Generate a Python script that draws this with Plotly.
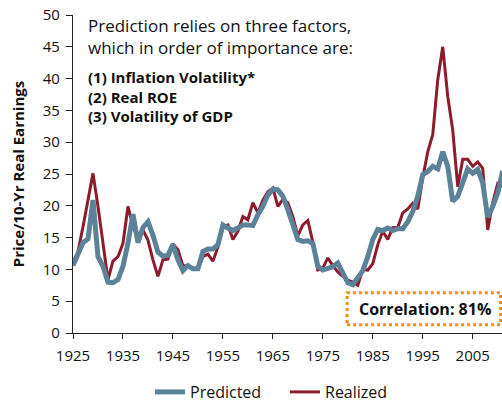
import plotly.graph_objects as go

years = list(range(1925, 2012))

realized = [11.0, 12.8, 16.7, 20.9, 25.1, 19.9, 14.1, 8.4, 11.3, 12.0,
            14.1, 19.9, 16.8, 14.8, 16.2, 14.6, 11.5, 8.9, 11.5, 11.6,
            14.0, 13.1, 10.6, 10.5, 10.0, 10.0, 12.0, 12.4, 11.3, 13.5,
            16.7, 17.0, 14.7, 16.0, 18.3, 17.8, 20.5, 18.9, 20.9, 22.2,
            22.8, 19.9, 21.0, 20.5, 18.3, 15.3, 17.0, 17.7, 14.3, 9.9,
            10.2, 11.8, 10.6, 9.6, 8.9, 8.3, 8.0, 7.5, 10.0, 9.9,
            10.9, 13.9, 16.0, 14.7, 16.6, 16.6, 18.9, 19.5, 20.4, 19.5,
            24.4, 28.5, 31.2, 39.8, 45.0, 37.2, 31.9, 23.0, 27.3, 27.3,
            26.2, 26.9, 25.9, 16.2, 20.5, 23.5, 23.0]

predicted = [10.6, 12.5, 14.2, 14.8, 20.9, 12.0, 10.5, 8.0, 7.9, 8.4,
             10.5, 14.1, 18.7, 14.2, 16.6, 17.5, 15.4, 12.7, 12.1, 12.2,
             13.9, 11.5, 9.8, 10.6, 10.1, 10.1, 12.8, 13.2, 13.2, 13.9,
             17.0, 16.5, 16.1, 16.5, 17.0, 17.0, 16.9, 18.6, 19.9, 21.7,
             22.6, 22.5, 21.5, 19.4, 17.3, 14.7, 14.4, 14.5, 14.1, 10.5,
             9.9, 10.2, 10.4, 11.0, 9.4, 7.9, 7.6, 8.6, 9.8, 12.0,
             14.7, 16.3, 16.1, 16.5, 16.1, 16.4, 16.4, 17.5, 19.1, 21.5,
             24.9, 25.4, 26.2, 25.8, 28.5, 26.2, 20.7, 21.5, 23.6, 25.8,
             25.1, 25.7, 23.6, 18.2, 19.9, 22.0, 25.5]

x_ticks = [1925, 1935, 1945, 1955, 1965, 1975, 1985, 1995, 2005]
y_ticks = [0, 5, 10, 15, 20, 25, 30, 35, 40, 45, 50]

note_lines = ["Prediction relies on three factors,",
              "which in order of importance are:"]
factor_lines = ["(1) Inflation Volatility*", "(2) Real ROE", "(3) Volatility of GDP"]
corr_text = "Correlation: 81%"

FONT = "Open Sans"
RED = "#8E1B2C"
BLUE = "#5B8298"

fig = go.Figure()
fig.add_trace(go.Scatter(x=years, y=realized, mode="lines", name="Realized",
                         line=dict(color=RED, width=3)))
fig.add_trace(go.Scatter(x=years, y=predicted, mode="lines", name="Predicted",
                         line=dict(color=BLUE, width=5)))

# body margin is removed (post_script), so window pixels == figure pixels
W, H = 502, 402
PL, PR, PT, PB = 72.7, 502.0, 15.0, 333.3   # plot area in window pixels
L, R, T, B = PL, W - PR, PT, H - PB
pw, ph = PR - PL, PB - PT

def px_x(px):
    return (px - PL) / pw

def px_y(py):
    return (PB - py) / ph

def cx(px):
    return px / W

def cy(py):
    return (H - py) / H

fig.update_layout(
    width=W, height=H,
    margin=dict(l=L, r=R, t=T, b=B, pad=0),
    paper_bgcolor="white", plot_bgcolor="white",
    font=dict(family=FONT, size=15, color="#111111"),
    showlegend=True,
    legend=dict(orientation="h", xref="container", yref="container",
                x=cx(150), xanchor="left", y=cy(392), yanchor="middle",
                traceorder="reversed", font=dict(size=16),
                itemwidth=30, entrywidth=90, entrywidthmode="pixels",
                bgcolor="rgba(0,0,0,0)"),
    xaxis=dict(range=[1925, 1925 + pw / 5.0], tickvals=x_ticks,
               ticktext=[str(v) for v in x_ticks],
               showgrid=False, zeroline=False, showline=True, linecolor="#222222",
               linewidth=1.3, ticks="outside", ticklen=5, tickwidth=1.3,
               tickcolor="#222222", tickfont=dict(size=15), ticklabelstandoff=4,
               ticklabeloverflow="allow", fixedrange=True),
    yaxis=dict(range=[0, 50], tickvals=y_ticks, showgrid=False, zeroline=False,
               showline=True, linecolor="#222222", linewidth=1.3, ticks="outside",
               ticklen=6, tickwidth=1.3, tickcolor="#222222", tickfont=dict(size=15),
               ticklabelstandoff=3, ticklabeloverflow="allow",
               title=dict(text="<b>Price/10-Yr Real Earnings</b>", font=dict(size=15),
                          standoff=14),
               fixedrange=True),
)

ann = [
    dict(text="<br>".join(note_lines), x=px_x(86), y=px_y(36.5), xref="paper",
         yref="paper", xanchor="left", yanchor="middle", align="left",
         showarrow=False, font=dict(size=17)),
    dict(text="<br>".join("<b>" + t + "</b>" for t in factor_lines), x=px_x(86),
         y=px_y(97), xref="paper", yref="paper", xanchor="left", yanchor="middle",
         align="left", showarrow=False, font=dict(size=15)),
    dict(text="<b>" + corr_text + "</b>", x=px_x(425), y=px_y(309),
         xref="paper", yref="paper", xanchor="center", yanchor="middle",
         showarrow=False, font=dict(size=16)),
]
fig.update_layout(annotations=ann)

fig.add_shape(type="rect", xref="paper", yref="paper",
              x0=px_x(347), x1=px_x(500.5), y0=px_y(325), y1=px_y(293),
              line=dict(color="#F0900A", width=3, dash="dot"),
              fillcolor="white", layer="above")

fig.write_html("out.html",
               config={"displayModeBar": False, "staticPlot": False},
               post_script="document.body.style.margin='0';"
                           "document.documentElement.style.overflow='hidden';")
